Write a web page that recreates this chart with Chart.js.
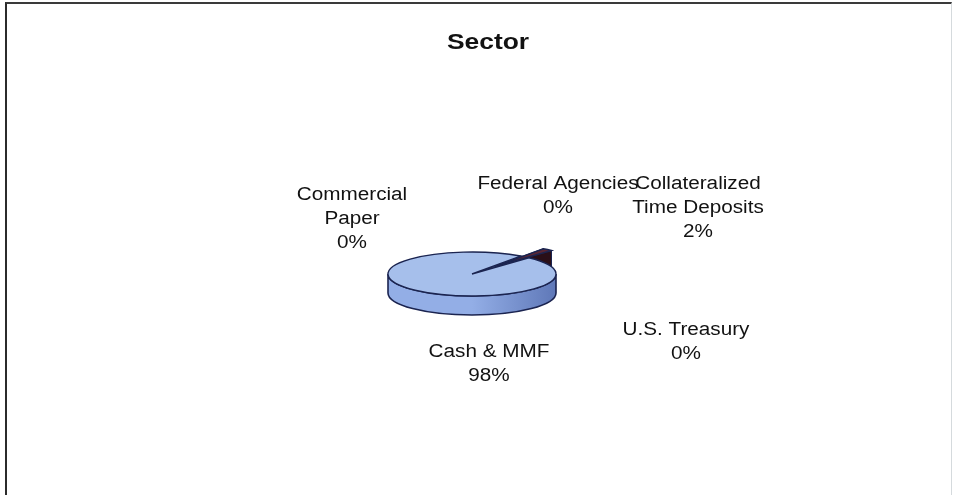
<!DOCTYPE html>
<html>
<head>
<meta charset="utf-8">
<script src="https://cdn.jsdelivr.net/npm/chart.js@4/dist/chart.umd.min.js"></script>
<style>
  html, body { margin: 0; padding: 0; background: #fff; overflow: hidden; }
  #frame {
    position: absolute; left: 5px; top: 2px; width: 944px; height: 520px;
    border-left: 2px solid #2b2b2b; border-top: 2px solid #3a3a3a; border-right: 1px solid #d5dadd;
  }
  #wrap { position: absolute; left: 0; top: 0; width: 956px; height: 495px; }
</style>
</head>
<body>
<div id="frame"></div>
<div id="wrap"><canvas id="chart" width="956" height="495"></canvas></div>
<script>
// données du graphique
const chartTitle = 'Sector';
const categories = ['Commercial Paper', 'Federal Agencies', 'Collateralized Time Deposits', 'U.S. Treasury', 'Cash & MMF'];
const labelLines = [['Commercial', 'Paper'], ['Federal Agencies'], ['Collateralized', 'Time Deposits'], ['U.S. Treasury'], ['Cash & MMF']];
const sectorValues = [0, 0, 2, 0, 98];
const sliceColors = ['#9999ff', '#ffffcc', '#5a2634', '#ccffff', '#a6bfeb'];
const sideColors = [['#7a7ad0', '#5c5cb0'], ['#d8d8a8', '#b0b088'], ['#3e1822', '#2a0f18'], ['#a8d8d8', '#88b0b0'], ['#93aee6', '#5f78b8']];

// placement des étiquettes (décalage par rapport au centre du camembert)
const labelOffsets = [[-120, -55], [86, -78], [226, -66], [214, 68], [17, 90]];

const TILT = 0.262;      // rapport hauteur / largeur de l'ellipse
const DEPTH = 19;        // épaisseur du disque
const EXPLODE = 36;      // décalage de la petite part
const TEXT_COLOR = '#121212';
const OUTLINE = '#1b2450';

// parties visibles du bord extérieur (moitié avant de l'ellipse)
function visibleRanges(start, end) {
  const k = Math.floor(start / (2 * Math.PI));
  const s = start - 2 * Math.PI * k;
  const e = end - 2 * Math.PI * k;
  const out = [];
  [[0, Math.PI], [2 * Math.PI, 3 * Math.PI]].forEach(([a, b]) => {
    const s0 = Math.max(s, a), e0 = Math.min(e, b);
    if (e0 - s0 > 0.0001) out.push([s0, e0]);
  });
  return out;
}

function drawWalls(ctx, s) {
  ctx.lineWidth = 1;
  ctx.strokeStyle = OUTLINE;
  [s.start, s.end].forEach((a) => {
    const ex = s.cx + s.rx * Math.cos(a), ey = s.cy + s.ry * Math.sin(a);
    ctx.beginPath();
    ctx.moveTo(s.cx, s.cy);
    ctx.lineTo(ex, ey);
    ctx.lineTo(ex, ey + DEPTH);
    ctx.lineTo(s.cx, s.cy + DEPTH);
    ctx.closePath();
    ctx.fillStyle = s.side[1];
    ctx.fill();
    ctx.stroke();
  });
  visibleRanges(s.start, s.end).forEach(([a, b]) => {
    const grad = ctx.createLinearGradient(s.cx - s.rx, 0, s.cx + s.rx, 0);
    grad.addColorStop(0, s.side[0]);
    grad.addColorStop(0.5, s.side[0]);
    grad.addColorStop(1, s.side[1]);
    ctx.beginPath();
    ctx.ellipse(s.cx, s.cy, s.rx, s.ry, 0, a, b, false);
    ctx.ellipse(s.cx, s.cy + DEPTH, s.rx, s.ry, 0, b, a, true);
    ctx.closePath();
    ctx.fillStyle = grad;
    ctx.fill();
    ctx.lineWidth = 1.6;
    ctx.stroke();
  });
}

function drawTop(ctx, s) {
  ctx.beginPath();
  ctx.moveTo(s.cx, s.cy);
  ctx.ellipse(s.cx, s.cy, s.rx, s.ry, 0, s.start, s.end, false);
  ctx.closePath();
  ctx.fillStyle = s.color;
  ctx.fill();
  ctx.lineWidth = 1.4;
  ctx.strokeStyle = OUTLINE;
  ctx.stroke();
}

function stretchedText(ctx, text, x, y, sx) {
  ctx.save();
  ctx.translate(x, y);
  ctx.scale(sx, 1);
  ctx.fillText(text, 0, 0);
  ctx.restore();
}

const pie3d = {
  id: 'pie3d',
  beforeDatasetsDraw(chart) {
    const ctx = chart.ctx;
    const arcs = chart.getDatasetMeta(0).data;
    const colors = chart.data.datasets[0].backgroundColor;
    const slices = [];
    arcs.forEach((arc, i) => {
      if (arc.endAngle - arc.startAngle < 0.0001) return;
      const mid = (arc.startAngle + arc.endAngle) / 2;
      const off = arc.endAngle - arc.startAngle < Math.PI ? EXPLODE : 0;
      slices.push({
        cx: arc.x + off * Math.cos(mid),
        cy: arc.y + off * TILT * Math.sin(mid),
        rx: arc.outerRadius,
        ry: arc.outerRadius * TILT,
        start: arc.startAngle,
        end: arc.endAngle,
        mid,
        color: colors[i],
        side: sideColors[i],
      });
    });
    slices.sort((a, b) => Math.sin(a.mid) - Math.sin(b.mid));
    ctx.save();
    slices.forEach((s) => drawWalls(ctx, s));
    slices.forEach((s) => drawTop(ctx, s));
    ctx.restore();
    return false;
  },
  afterDraw(chart) {
    const ctx = chart.ctx;
    const arc = chart.getDatasetMeta(0).data[0];
    const total = sectorValues.reduce((a, b) => a + b, 0);
    ctx.save();
    ctx.fillStyle = TEXT_COLOR;
    ctx.textAlign = 'center';
    ctx.textBaseline = 'middle';
    ctx.font = 'bold 22px "Liberation Sans", Arial, sans-serif';
    stretchedText(ctx, chartTitle, 488, 43, 1.2);
    ctx.font = '18px "Liberation Sans", Arial, sans-serif';
    const lineH = 24;
    categories.forEach((cat, i) => {
      const lines = labelLines[i].concat(Math.round(sectorValues[i] / total * 100) + '%');
      const x = arc.x + labelOffsets[i][0];
      const y0 = arc.y + labelOffsets[i][1] - (lines.length - 1) * lineH / 2;
      lines.forEach((t, j) => stretchedText(ctx, t, x, y0 + j * lineH, 1.15));
    });
    ctx.restore();
  },
};

new Chart(document.getElementById('chart'), {
  type: 'pie',
  data: {
    labels: categories,
    datasets: [{
      data: sectorValues,
      backgroundColor: sliceColors,
      borderWidth: 0,
    }],
  },
  options: {
    responsive: false,
    devicePixelRatio: 1,
    animation: false,
    rotation: 35.4,
    layout: { padding: { top: 190, bottom: 137, left: 0, right: 12 } },
    plugins: {
      legend: { display: false },
      tooltip: { enabled: false },
      title: { display: false },
    },
  },
  plugins: [pie3d],
});
</script>
</body>
</html>
